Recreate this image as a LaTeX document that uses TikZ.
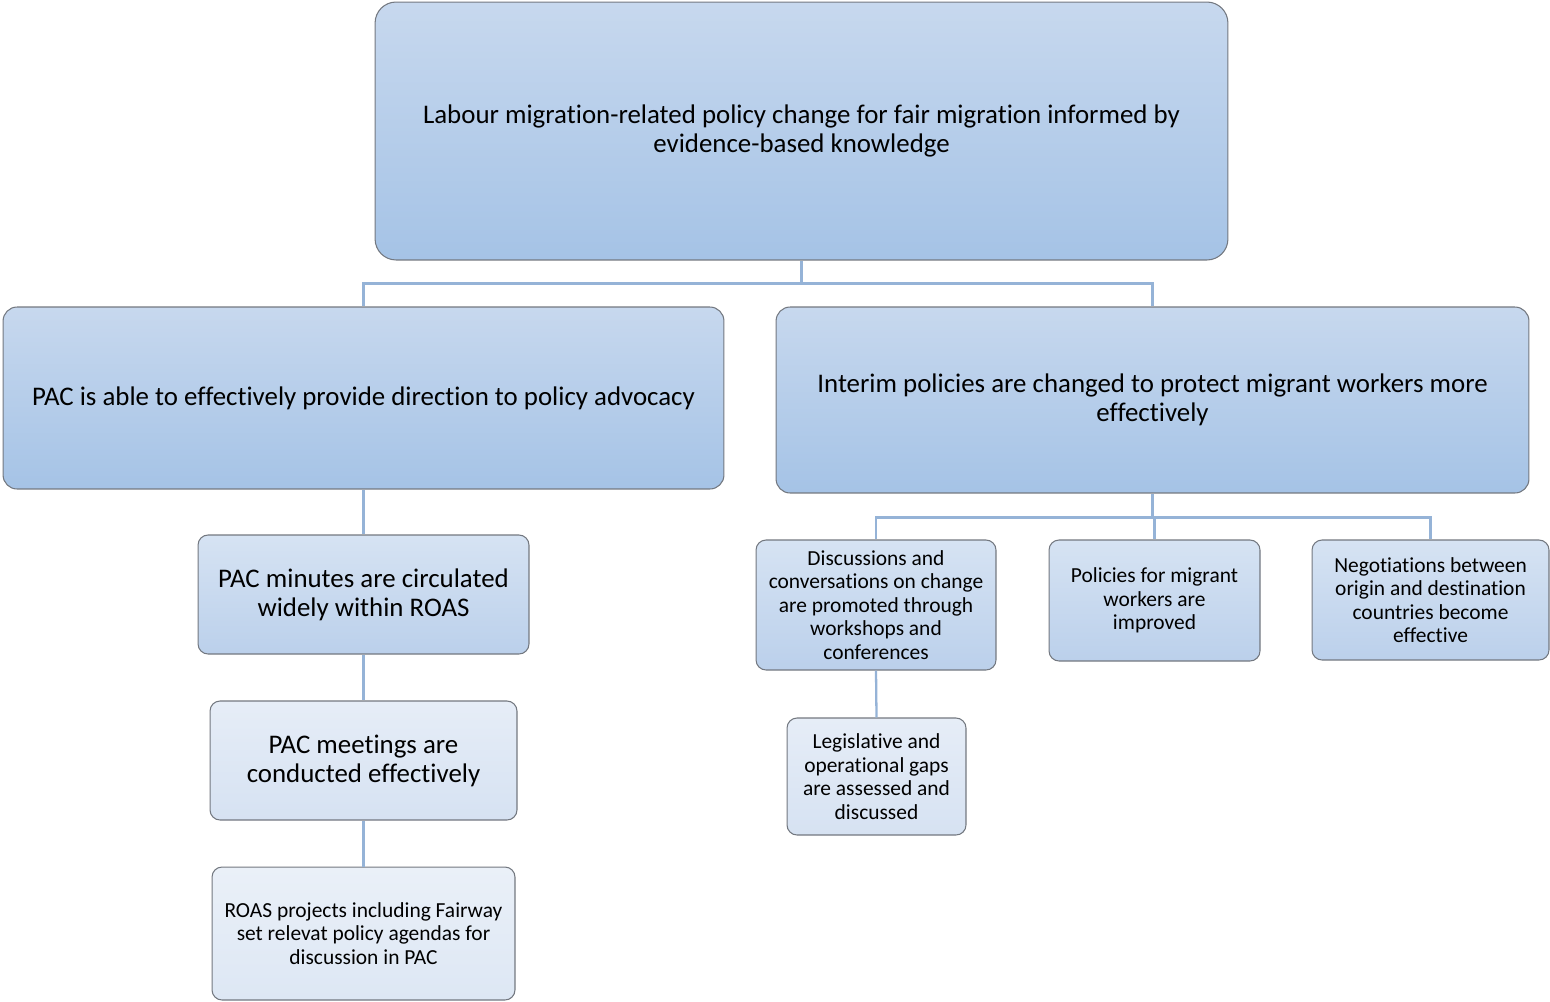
\documentclass[tikz,border=0pt]{standalone}
\usepackage{fontspec}
\setmainfont[Ligatures=NoCommon]{Carlito}
\definecolor{boxedge}{HTML}{737880}
\definecolor{linkblue}{HTML}{95B3D7}
\definecolor{darktop}{HTML}{C7D8EE}
\definecolor{darkbot}{HTML}{A5C3E6}
\definecolor{midtop}{HTML}{D6E3F3}
\definecolor{midbot}{HTML}{BBD0EB}
\definecolor{paletop}{HTML}{E6EDF7}
\definecolor{palebot}{HTML}{D6E2F2}
\definecolor{faintop}{HTML}{EAF0F8}
\definecolor{faintbot}{HTML}{DDE7F4}

\begin{document}
\begin{tikzpicture}[x=0.02cm, y=-0.02cm,
  box/.style={draw=boxedge, line width=0.6pt, align=center, inner sep=0pt},
  bigbox/.style={box, rounded corners=0.42cm, top color=darktop, bottom color=darkbot,
    font=\fontsize{15.3}{16.6}\selectfont},
  widebox/.style={box, rounded corners=0.28cm, top color=darktop, bottom color=darkbot,
    font=\fontsize{15.3}{16.6}\selectfont},
  midbox/.style={box, rounded corners=0.2cm, top color=midtop, bottom color=midbot},
  palebox/.style={box, rounded corners=0.2cm, top color=paletop, bottom color=palebot},
  faintbox/.style={box, rounded corners=0.2cm, top color=faintop, bottom color=faintbot},
  bigtext/.style={font=\fontsize{15.3}{16.6}\selectfont},
  smalltext/.style={font=\fontsize{12.2}{13.4}\selectfont},
  link/.style={draw=linkblue, line width=1.3pt}]
\useasboundingbox (0,0) rectangle (1550,1001);

% Goal
\node[bigbox, minimum width=17.06cm, minimum height=5.16cm] (goal) at (801.5,131)
  {Labour migration-related policy change for fair migration informed by\\evidence-based knowledge};

% Outcomes
\node[widebox, minimum width=14.42cm, minimum height=3.64cm] (pac) at (363.5,398)
  {PAC is able to effectively provide direction to policy advocacy};
\node[widebox, minimum width=15.06cm, minimum height=3.72cm] (interim) at (1152.5,400)
  {Interim policies are changed to protect migrant workers more\\effectively};

% Left branch
\node[midbox, bigtext, minimum width=6.62cm, minimum height=2.38cm] (minutes) at (363.5,594.5)
  {PAC minutes are circulated\\widely within ROAS};
\node[palebox, bigtext, minimum width=6.14cm, minimum height=2.38cm] (meetings) at (363.5,760.5)
  {PAC meetings are\\conducted effectively};
\node[faintbox, smalltext, minimum width=6.06cm, minimum height=2.66cm] (roas) at (363.5,933.5)
  {ROAS projects including Fairway\\set relevat policy agendas for\\discussion in PAC};

% Right branch
\node[midbox, smalltext, minimum width=4.8cm, minimum height=2.6cm] (talks) at (876,605)
  {Discussions and\\conversations on change\\are promoted through\\workshops and\\conferences};
\node[midbox, smalltext, minimum width=4.22cm, minimum height=2.42cm] (policy) at (1154.5,600.5)
  {Policies for migrant\\workers are\\improved};
\node[midbox, smalltext, minimum width=4.74cm, minimum height=2.4cm] (nego) at (1430.5,600)
  {Negotiations between\\origin and destination\\countries become\\effective};
\node[palebox, smalltext, minimum width=3.58cm, minimum height=2.34cm] (gaps) at (876.5,776.5)
  {Legislative and\\operational gaps\\are assessed and\\discussed};

% Connectors
\draw[link] (goal.south) -- ++(0,23) coordinate (top) -| (pac.north);
\draw[link] (top) -| (interim.north);
\draw[link] (interim.south) -- ++(0,24) coordinate (mid) -| (talks.north);
\draw[link] (mid) -| (policy.north);
\draw[link] (mid) -| (nego.north);
\draw[link] (pac.south) -- (minutes.north);
\draw[link] (minutes.south) -- (meetings.north);
\draw[link] (meetings.south) -- (roas.north);
\draw[link] (talks.south) -- (gaps.north);
\end{tikzpicture}
\end{document}
